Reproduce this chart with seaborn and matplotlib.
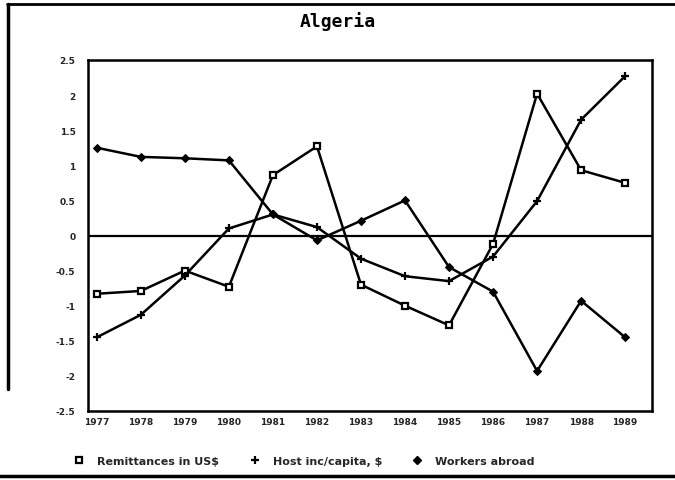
import numpy as np
import pandas as pd
import matplotlib
matplotlib.use("Agg")
import matplotlib.pyplot as plt
import seaborn as sns
from matplotlib.lines import Line2D

# Données
years = [1977, 1978, 1979, 1980, 1981, 1982, 1983, 1984, 1985, 1986, 1987, 1988, 1989]
remittances = [-0.83, -0.79, -0.50, -0.73, 0.86, 1.27, -0.70, -1.00, -1.28, -0.12, 2.02, 0.93, 0.75]
host_income = [-1.45, -1.13, -0.57, 0.10, 0.30, 0.12, -0.33, -0.58, -0.65, -0.30, 0.49, 1.65, 2.27]
workers = [1.25, 1.12, 1.10, 1.07, 0.30, -0.07, 0.21, 0.50, -0.45, -0.80, -1.93, -0.93, -1.45]

series_names = ['Remittances in US$', 'Host inc/capita, $', 'Workers abroad']
y_ticks = [2.5, 2, 1.5, 1, 0.5, 0, -0.5, -1, -1.5, -2, -2.5]
y_labels = ['2.5', '2', '1.5', '1', '0.5', '0', '-0.5', '-1', '-1.5', '-2', '-2.5']

df = pd.DataFrame({
    'year': years * 3,
    'value': remittances + host_income + workers,
    'series': [series_names[0]] * 13 + [series_names[1]] * 13 + [series_names[2]] * 13,
})

sns.set_style("white")
plt.rcParams['font.family'] = ['DejaVu Sans']

fig = plt.figure(figsize=(6.75, 4.81), dpi=100)
ax = fig.add_axes([88 / 675, 69 / 481, (652 - 88) / 675, (412 - 61) / 481])

styles = {
    series_names[0]: dict(marker='s', markersize=5, markerfacecolor='white', markeredgecolor='black', markeredgewidth=1.6),
    series_names[1]: dict(marker='+', markersize=6, markeredgecolor='black', markeredgewidth=1.6),
    series_names[2]: dict(marker='D', markersize=4.5, markerfacecolor='black', markeredgecolor='black'),
}

for name in series_names:
    sub = df[df['series'] == name]
    sns.lineplot(data=sub, x='year', y='value', ax=ax, color='black', linewidth=1.8,
                 legend=False, **styles[name])

ax.axhline(0, color='black', linewidth=1.6, zorder=0)

ax.set_xlim(1976.8, 1989.61)
ax.set_ylim(-2.5, 2.5)
ax.set_xticks(years)
ax.set_xticklabels([str(y) for y in years], fontsize=6.5, fontweight='bold')
ax.set_yticks(y_ticks)
ax.set_yticklabels(y_labels, fontsize=6.5, fontweight='bold')
ax.tick_params(axis='both', direction='in', length=5, width=1.5, color='black')
ax.tick_params(axis='y', pad=9)
ax.tick_params(axis='x', pad=4)
ax.set_xlabel('')
ax.set_ylabel('')
for sp in ax.spines.values():
    sp.set_color('black')
    sp.set_linewidth(1.8)

fig.text(0.5, 1 - 22 / 481, 'Algeria', ha='center', va='center', fontsize=13,
         fontweight='bold', color='black', family='DejaVu Sans Mono')

# Légende en bas
handles = [
    Line2D([], [], linestyle='none', **styles[series_names[0]]),
    Line2D([], [], linestyle='none', **styles[series_names[1]]),
    Line2D([], [], linestyle='none', **styles[series_names[2]]),
]
fig.legend(handles, series_names, loc='center', bbox_to_anchor=(0.45, 1 - 462 / 481),
           ncol=3, frameon=False, prop={'size': 8, 'weight': 'bold'},
           handletextpad=1.0, columnspacing=2.6, handlelength=1.2)

# Cadre extérieur
fig.add_artist(Line2D([0.01, 1.0], [1 - 5 / 481, 1 - 5 / 481], color='black', linewidth=2, transform=fig.transFigure))
fig.add_artist(Line2D([8 / 675, 8 / 675], [1 - 5 / 481, 1 - 390 / 481], color='black', linewidth=2.5, transform=fig.transFigure))
fig.add_artist(Line2D([0.0, 1.0], [1 - 477 / 481, 1 - 477 / 481], color='black', linewidth=2.5, transform=fig.transFigure))

fig.savefig('out.png', dpi=100)
